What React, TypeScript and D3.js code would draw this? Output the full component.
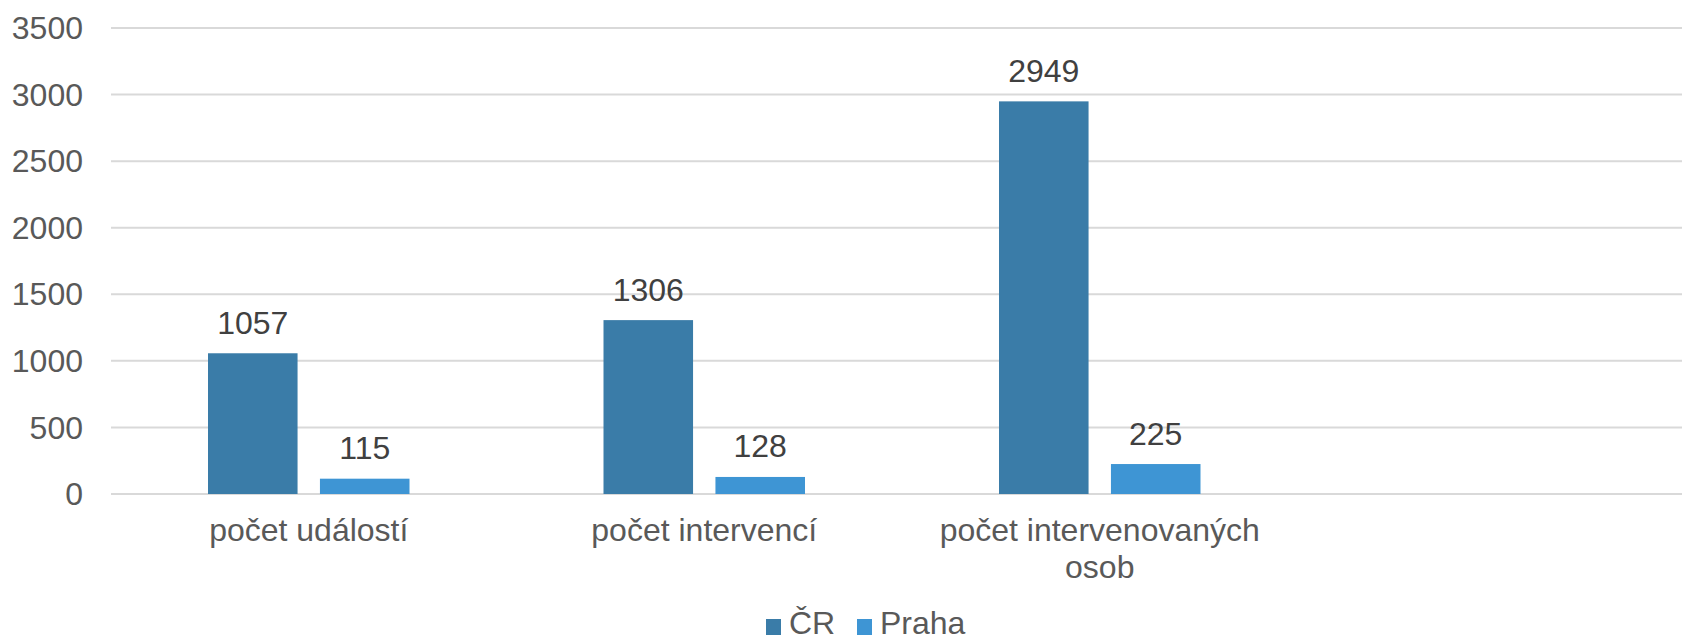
import * as d3 from 'd3';
import React from 'react';

const categories = [['počet událostí'], ['počet intervencí'], ['počet intervenovaných', 'osob'], ['']];
const seriesNames = ['ČR', 'Praha'];
const crValues = [1057, 1306, 2949];
const prahaValues = [115, 128, 225];
const yTicks = [0, 500, 1000, 1500, 2000, 2500, 3000, 3500];

const colors: Record<string, string> = { 'ČR': '#3a7ca8', Praha: '#3e95d4' };

const width = 1682;
const height = 641;
const font = '"Liberation Sans", Arial, sans-serif';
const fs = 32;

const App: React.FC = () => {
  const keys = categories.map((c) => c.join(' '));
  const x0 = d3.scaleBand().domain(keys).range([111, 1693]);
  const x1 = d3
    .scaleBand()
    .domain(seriesNames)
    .range([97, 298.5])
    .paddingInner(0.2);
  const y = d3.scaleLinear().domain([0, 3500]).range([494, 28]);

  const series = [crValues, prahaValues];

  return (
    <svg width={width} height={height} style={{ position: 'absolute', left: 0, top: 0 }}>
      <rect width={width} height={height} fill='white' />
      <g>
        {yTicks.map((t) => (
          <g key={t}>
            <line x1={111} x2={width} y1={y(t)} y2={y(t)} stroke='#d9d9d9' strokeWidth={2} />
            <text
              x={83}
              y={y(t)}
              dy='0.35em'
              textAnchor='end'
              fontFamily={font}
              fontSize={fs}
              fill='#595959'
            >
              {t}
            </text>
          </g>
        ))}
      </g>
      <g>
        {series.map((vals, si) =>
          vals.map((v, ci) => {
            const bx = (x0(keys[ci]) ?? 0) + (x1(seriesNames[si]) ?? 0);
            return (
              <g key={`${si}-${ci}`}>
                <rect
                  x={bx}
                  y={y(v)}
                  width={x1.bandwidth()}
                  height={y(0) - y(v)}
                  fill={colors[seriesNames[si]]}
                />
                <text
                  x={bx + x1.bandwidth() / 2}
                  y={y(v) - 19.5}
                  textAnchor='middle'
                  fontFamily={font}
                  fontSize={fs}
                  fill='#404040'
                >
                  {v}
                </text>
              </g>
            );
          })
        )}
      </g>
      <g>
        {categories.map((lines, ci) => (
          <text
            key={ci}
            x={(x0(keys[ci]) ?? 0) + x0.bandwidth() / 2}
            y={541}
            textAnchor='middle'
            fontFamily={font}
            fontSize={fs}
            fill='#595959'
          >
            {lines.map((l, li) => (
              <tspan key={li} x={(x0(keys[ci]) ?? 0) + x0.bandwidth() / 2} dy={li === 0 ? 0 : 37}>
                {l}
              </tspan>
            ))}
          </text>
        ))}
      </g>
      <g fontFamily={font} fontSize={fs} fill='#595959'>
        <rect x={766} y={619} width={15} height={16} fill={colors['ČR']} />
        <text x={789} y={634}>
          {seriesNames[0]}
        </text>
        <rect x={857} y={619} width={15} height={16} fill={colors.Praha} />
        <text x={880} y={634}>
          {seriesNames[1]}
        </text>
      </g>
    </svg>
  );
};

export default App;
